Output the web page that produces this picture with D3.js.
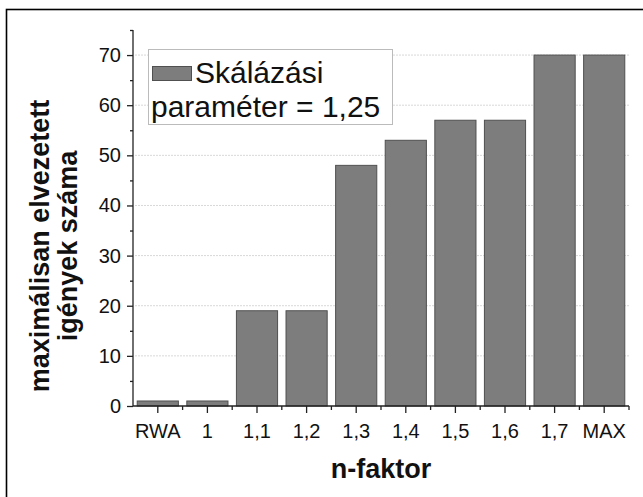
<!DOCTYPE html>
<html><head><meta charset="utf-8">
<script src="https://cdn.jsdelivr.net/npm/d3@7"></script>
<style>
html,body{margin:0;padding:0;background:#fff;}
svg{display:block;font-family:Arial,"Liberation Sans",sans-serif;}
</style></head>
<body>
<svg id="chart" width="643" height="497"></svg>
<script>
const categories = ["RWA","1","1,1","1,2","1,3","1,4","1,5","1,6","1,7","MAX"];
const values = [1,1,19,19,48,53,57,57,70,70];
const yTicks = [0,10,20,30,40,50,60,70];
const yMinorTicks = [5,15,25,35,45,55,65,75];
const legendLines = ["Skálázási","paraméter = 1,25"];
const xTitle = "n-faktor";
const yTitleLines = ["maximálisan elvezetett","igények száma"];

const svg = d3.select("#chart");
const m = {left:133, right:629, top:30, bottom:406};

// outer frame (open to right/bottom)
svg.append("rect").attr("x",6.5).attr("y",9.5).attr("width",700).attr("height",600)
  .attr("fill","none").attr("stroke","#000").attr("stroke-width",1.6);

const x = d3.scaleBand().domain(categories).range([m.left,m.right]).paddingInner(0.15).paddingOuter(0.075);
const xb = d3.scaleBand().domain(categories).range([m.left,m.right]);
const y = d3.scaleLinear().domain([0,75]).range([m.bottom,m.top]);

// grid
svg.append("g").selectAll("line").data(yTicks.filter(d=>d>0)).join("line")
  .attr("x1",m.left+2).attr("x2",m.right).attr("y1",d=>y(d)).attr("y2",d=>y(d))
  .attr("stroke","#d8d8d8").attr("stroke-width",1).attr("stroke-dasharray","2,1");

// bars
svg.append("g").selectAll("rect").data(values).join("rect")
  .attr("x",(d,i)=>x(categories[i])+0.5).attr("width",x.bandwidth()-1)
  .attr("y",d=>y(d)).attr("height",d=>y(0)-y(d))
  .attr("fill","#7d7d7d").attr("stroke","#505050").attr("stroke-width",1);

// y axis
const yAxis = svg.append("g").attr("transform",`translate(${m.left},0)`)
  .call(d3.axisLeft(y).tickValues(yTicks).tickSize(6).tickPadding(6).tickFormat(d3.format("d")));
yAxis.select(".domain").attr("d",`M0,${m.top}V${m.bottom}`).attr("stroke","#222").attr("stroke-width",1.3);
yAxis.selectAll(".tick line").attr("stroke","#222").attr("stroke-width",1.3);
yAxis.selectAll(".tick text").attr("font-size",20).attr("fill","#111").attr("font-family","Arial,'Liberation Sans',sans-serif");
svg.append("g").attr("transform",`translate(${m.left},0)`)
  .call(d3.axisLeft(y).tickValues(yMinorTicks).tickSize(3).tickFormat(""))
  .call(g=>g.select(".domain").remove())
  .selectAll("line").attr("stroke","#222").attr("stroke-width",1.3);

// x axis
const xAxis = svg.append("g").attr("transform",`translate(0,${m.bottom})`)
  .call(d3.axisBottom(xb).tickSize(7).tickPadding(11));
xAxis.select(".domain").attr("d",`M${m.left},0H${m.right}`).attr("stroke","#222").attr("stroke-width",1.3);
xAxis.selectAll(".tick line").attr("stroke","#222").attr("stroke-width",1.3);
xAxis.selectAll(".tick text").attr("font-size",20).attr("fill","#111").attr("font-family","Arial,'Liberation Sans',sans-serif");
// minor ticks at band boundaries
svg.append("g").selectAll("line").data(categories.slice(1).concat(["__end"])).join("line")
  .attr("x1",(d,i)=> i<categories.length-1 ? xb(d) : m.right)
  .attr("x2",(d,i)=> i<categories.length-1 ? xb(d) : m.right)
  .attr("y1",m.bottom).attr("y2",m.bottom+4).attr("stroke","#222").attr("stroke-width",1.3);

// legend
const lg = svg.append("g");
lg.append("rect").attr("x",148.5).attr("y",49.5).attr("width",244).attr("height",75)
  .attr("fill","#fff").attr("stroke","#bbb").attr("stroke-width",1);
lg.append("rect").attr("x",152.5).attr("y",66.5).attr("width",39).attr("height",14)
  .attr("fill","#7d7d7d").attr("stroke","#505050");
lg.append("text").attr("x",195).attr("y",83).attr("font-size",30).attr("fill","#111").text(legendLines[0]);
lg.append("text").attr("x",151).attr("y",117).attr("font-size",30).attr("fill","#111").text(legendLines[1]);

// axis titles
svg.append("text").attr("x",(m.left+m.right)/2).attr("y",478).attr("text-anchor","middle")
  .attr("font-size",27).attr("font-weight","bold").attr("fill","#111").text(xTitle);
const yt = svg.append("text").attr("transform","translate(49,246) rotate(-90)")
  .attr("text-anchor","middle").attr("font-size",27).attr("font-weight","bold").attr("fill","#111");
yt.append("tspan").attr("x",0).attr("y",0).text(yTitleLines[0]);
yt.append("tspan").attr("x",0).attr("y",28).text(yTitleLines[1]);
</script>
</body></html>
